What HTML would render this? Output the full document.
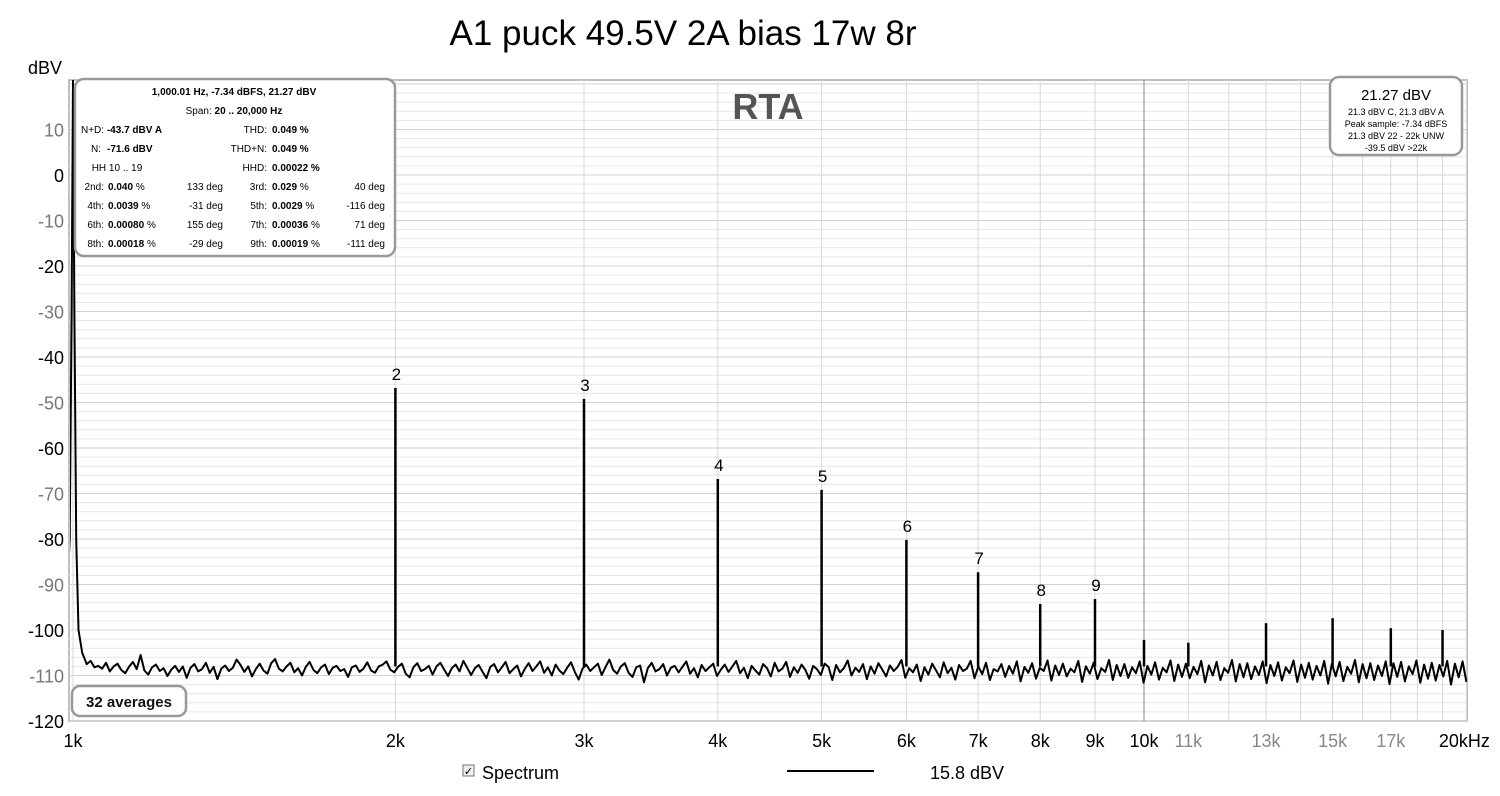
<!DOCTYPE html>
<html><head><meta charset="utf-8">
<style>
body{margin:0;background:#fff;width:1500px;height:791px;overflow:hidden;font-family:"Liberation Sans",sans-serif}
svg text{font-family:"Liberation Sans",sans-serif}
</style></head>
<body>
<svg id="chart" width="1500" height="791" xmlns="http://www.w3.org/2000/svg">
<defs><clipPath id="pc"><rect x="70" y="80" width="1397" height="640"/></clipPath></defs>
<text x="683" y="45" font-size="35" text-anchor="middle" fill="#000">A1 puck 49.5V 2A bias 17w 8r</text>
<text x="45" y="74" font-size="18" text-anchor="middle" fill="#000">dBV</text>
<rect x="69" y="80" width="1398" height="641" fill="#fff" stroke="#aaa" stroke-width="1.5"/>
<g id="grid"></g>
<g id="yt"></g>
<g id="xt"></g>
<g id="series" clip-path="url(#pc)"></g>
<g id="hl"></g>
<text x="768" y="119" font-size="36" font-weight="bold" fill="#555" text-anchor="middle">RTA</text>
<g font-size="10" fill="#000">
<rect x="75" y="79" width="320" height="177" rx="9" fill="#fff" stroke="#999" stroke-width="2.5"/>
<text x="234" y="95" text-anchor="middle" font-weight="bold">1,000.01 Hz, -7.34 dBFS, 21.27 dBV</text>
<text x="234" y="114" text-anchor="middle">Span: <tspan font-weight="bold">20 .. 20,000 Hz</tspan></text>
<text x="81" y="133">N+D: <tspan font-weight="bold">-43.7 dBV A</tspan></text>
<text x="267" y="133" text-anchor="end">THD:</text><text x="272" y="133" font-weight="bold">0.049 %</text>
<text x="101" y="152" text-anchor="end">N:</text><text x="107" y="152" font-weight="bold">-71.6 dBV</text>
<text x="267" y="152" text-anchor="end">THD+N:</text><text x="272" y="152" font-weight="bold">0.049 %</text>
<text x="117" y="171" text-anchor="middle">HH 10 .. 19</text>
<text x="267" y="171" text-anchor="end">HHD:</text><text x="272" y="171" font-weight="bold">0.00022 %</text>
<text x="104" y="190" text-anchor="end">2nd:</text><text x="108" y="190" font-weight="bold">0.040 <tspan font-weight="normal">%</tspan></text>
<text x="223" y="190" text-anchor="end">133 deg</text>
<text x="267" y="190" text-anchor="end">3rd:</text><text x="272" y="190" font-weight="bold">0.029 <tspan font-weight="normal">%</tspan></text>
<text x="385" y="190" text-anchor="end">40 deg</text>
<text x="104" y="209" text-anchor="end">4th:</text><text x="108" y="209" font-weight="bold">0.0039 <tspan font-weight="normal">%</tspan></text>
<text x="223" y="209" text-anchor="end">-31 deg</text>
<text x="267" y="209" text-anchor="end">5th:</text><text x="272" y="209" font-weight="bold">0.0029 <tspan font-weight="normal">%</tspan></text>
<text x="385" y="209" text-anchor="end">-116 deg</text>
<text x="104" y="228" text-anchor="end">6th:</text><text x="108" y="228" font-weight="bold">0.00080 <tspan font-weight="normal">%</tspan></text>
<text x="223" y="228" text-anchor="end">155 deg</text>
<text x="267" y="228" text-anchor="end">7th:</text><text x="272" y="228" font-weight="bold">0.00036 <tspan font-weight="normal">%</tspan></text>
<text x="385" y="228" text-anchor="end">71 deg</text>
<text x="104" y="247" text-anchor="end">8th:</text><text x="108" y="247" font-weight="bold">0.00018 <tspan font-weight="normal">%</tspan></text>
<text x="223" y="247" text-anchor="end">-29 deg</text>
<text x="267" y="247" text-anchor="end">9th:</text><text x="272" y="247" font-weight="bold">0.00019 <tspan font-weight="normal">%</tspan></text>
<text x="385" y="247" text-anchor="end">-111 deg</text>
</g>
<g fill="#000" text-anchor="middle">
<rect x="1330" y="77" width="132" height="78" rx="9" fill="#fff" stroke="#999" stroke-width="2.5"/>
<text x="1396" y="100" font-size="15">21.27 dBV</text>
<text x="1396" y="115" font-size="9">21.3 dBV C, 21.3 dBV A</text>
<text x="1396" y="127" font-size="9">Peak sample: -7.34 dBFS</text>
<text x="1396" y="139" font-size="9">21.3 dBV 22 - 22k UNW</text>
<text x="1396" y="151" font-size="9">-39.5 dBV &gt;22k</text>
</g>
<g>
<rect x="72" y="686" width="114" height="30" rx="8" fill="#fff" stroke="#999" stroke-width="2.5"/>
<text x="129" y="707" font-size="15" font-weight="bold" text-anchor="middle" fill="#111">32 averages</text>
</g>
<g>
<rect x="463" y="765" width="11" height="11" fill="#eee" stroke="#777"/>
<text x="468.5" y="775" font-size="11" text-anchor="middle">✓</text>
<text x="482" y="779" font-size="18">Spectrum</text>
<line x1="787" y1="771" x2="874" y2="771" stroke="#000" stroke-width="2"/>
<text x="930" y="779" font-size="18">15.8 dBV</text>
</g>
</svg>
<script>
const yTicks=[10,0,-10,-20,-30,-40,-50,-60,-70,-80,-90,-100,-110,-120];
const xTickFreqs=[1000,2000,3000,4000,5000,6000,7000,8000,9000,10000,11000,13000,15000,17000,20000];
const xTickLabels=["1k","2k","3k","4k","5k","6k","7k","8k","9k","10k","11k","13k","15k","17k","20kHz"];
const harmFreqs=[2000,3000,4000,5000,6000,7000,8000,9000,10000,11000,13000,15000,17000,19000];
const harmLevels=[-46.8,-49.2,-66.8,-69.2,-80.2,-87.3,-94.3,-93.2,-102.2,-102.8,-98.5,-97.4,-99.6,-100];
const harmLabels=["2","3","4","5","6","7","8","9"];
const skirtFreqs=[985,993,997,1000,1003,1007,1012,1020,1030];
const skirtLevels=[-98,-80,-30,21,-30,-80,-100,-105,-107.5];
const noise=[-107.5,-106.8,-108.2,-107.9,-108.5,-107.2,-109.1,-108.0,-107.4,-108.8,-109.5,-108.1,-107.0,-108.6,-105.5,-108.9,-109.8,-108.2,-107.6,-109.0,
-108.4,-110.1,-108.7,-107.9,-109.2,-108.0,-110.5,-108.3,-107.5,-109.1,-108.6,-107.2,-109.4,-108.1,-110.8,-108.5,-107.8,-109.0,-108.3,-106.5,
-107.7,-109.2,-108.0,-110.2,-108.6,-107.4,-108.9,-109.6,-107.3,-106.4,-108.5,-109.1,-108.0,-107.2,-109.3,-108.4,-110.0,-108.1,-107.0,-108.8,
-109.5,-108.2,-107.6,-109.7,-108.3,-107.9,-109.0,-108.6,-110.3,-108.2,-107.8,-109.2,-108.5,-107.1,-108.9,-109.4,-108.0,-107.6,-106.9,-108.7,
-109.3,-108.1,-107.4,-109.6,-110.4,-108.2,-107.3,-109.0,-108.6,-107.9,-109.8,-108.0,-107.2,-108.7,-110.1,-108.4,-107.6,-109.1,-106.8,-108.3,
-109.9,-108.4,-107.7,-109.2,-110.6,-108.1,-107.5,-109.3,-108.2,-107.0,-109.5,-108.6,-107.8,-110.2,-108.5,-107.3,-109.0,-108.0,-106.9,-109.4,
-108.2,-110.0,-107.6,-108.9,-109.7,-108.3,-107.1,-109.2,-110.9,-108.5,-107.6,-109.0,-108.2,-107.4,-109.9,-108.1,-106.5,-108.8,-109.6,-108.0,
-107.3,-109.4,-110.3,-108.2,-107.8,-111.5,-108.4,-107.2,-109.1,-108.6,-107.5,-110.0,-108.3,-107.9,-109.3,-108.1,-106.9,-109.6,-108.4,-110.4,
-107.7,-109.0,-108.2,-107.4,-110.1,-108.7,-107.6,-109.2,-108.0,-106.8,-109.5,-108.3,-110.6,-107.9,-108.9,-109.8,-107.5,-108.4,-110.2,-107.2,
-109.1,-108.5,-107.0,-110.3,-108.2,-109.4,-107.6,-108.8,-110.7,-107.9,-108.6,-109.9,-107.4,-108.1,-111.0,-107.7,-109.3,-108.4,-106.7,-110.0,
-108.3,-109.2,-107.5,-110.8,-108.0,-109.6,-107.3,-108.7,-110.2,-107.8,-109.0,-108.1,-106.6,-110.5,-108.4,-109.3,-107.6,-111.2,-108.2,-109.8,
-107.4,-108.9,-110.4,-107.1,-109.5,-108.3,-110.9,-107.7,-109.0,-108.5,-106.8,-110.6,-108.0,-109.7,-107.2,-111.0,-108.6,-109.1,-107.5,-110.3,
-107.9,-109.6,-106.9,-111.3,-108.1,-109.4,-107.3,-110.7,-108.3,-109.0,-106.7,-111.1,-107.8,-109.9,-107.4,-110.2,-108.5,-109.3,-106.8,-111.4,
-108.0,-109.6,-107.2,-110.8,-108.4,-109.2,-106.6,-111.0,-107.7,-110.1,-107.5,-110.5,-108.2,-109.5,-106.9,-111.6,-107.9,-109.8,-107.1,-110.9,
-108.3,-109.3,-106.7,-111.2,-107.6,-110.3,-107.4,-110.6,-108.1,-109.7,-106.8,-111.5,-107.8,-110.0,-107.0,-111.0,-108.4,-109.4,-106.6,-111.3,
-107.5,-110.4,-107.3,-110.8,-108.0,-109.9,-106.9,-111.7,-107.7,-110.1,-107.1,-111.1,-108.2,-109.5,-106.7,-111.4,-107.6,-110.5,-107.2,-110.9,
-107.9,-110.0,-106.8,-111.8,-107.4,-110.2,-107.0,-111.2,-108.1,-109.6,-106.6,-111.5,-107.5,-110.6,-107.3,-111.0,-107.8,-110.1,-106.9,-111.9,
-107.3,-110.3,-107.0,-111.3,-108.0,-109.7,-106.7,-111.6,-107.6,-110.7,-107.2,-111.1,-107.7,-110.2,-106.8,-112.0,-107.4,-110.4,-106.9,-111.4];

const X0=73,DEC=1071,Y0=721,PPD=4.55;
function xs(f){return X0+Math.log10(f/1000)*DEC;}
function ys(v){return Y0-(v+120)*PPD;}
const NS="http://www.w3.org/2000/svg";
function mk(tag,attrs,parent){const e=document.createElementNS(NS,tag);for(const k in attrs)e.setAttribute(k,attrs[k]);parent.appendChild(e);return e;}

const grid=document.getElementById('grid');
for(let v=-120;v<=20;v+=2){
  const l=mk('line',{x1:69,x2:1467,y1:ys(v),y2:ys(v),stroke:v%10===0?'#d0d0d0':'#e6e6e6','stroke-width':1},grid);
  
  
}
const gridFreqs=[];
for(let f=1000;f<=20000;f+=1000)gridFreqs.push(f);
gridFreqs.forEach(f=>{
  const l=mk('line',{x1:xs(f),x2:xs(f),y1:80,y2:721,stroke:f===10000?'#888':'#d8d8d8','stroke-width':1},grid);
  
  
});
const yt=document.getElementById('yt');
yTicks.forEach(v=>{
  const t=mk('text',{x:64,y:ys(v)+7,'font-size':18,'text-anchor':'end',fill:(v%20===0)?'#000':'#777'},yt);
  t.textContent=String(v);
  
  
});
const xt=document.getElementById('xt');
xTickFreqs.forEach((f,i)=>{
  const gray=f>10000&&f<20000;
  const t=mk('text',{x:xs(f)+(f===20000?-2:0),y:747,'font-size':18,'text-anchor':'middle',fill:gray?'#888':'#000'},xt);
  t.textContent=xTickLabels[i];
  
  
});
const ser=document.getElementById('series');
let d='';
skirtFreqs.forEach((f,i)=>{d+=(i?'L':'M')+xs(f).toFixed(1)+','+ys(skirtLevels[i]).toFixed(1);});
const n=noise.length,lo=Math.log10(1030),hi=Math.log10(20000);
noise.forEach((v,i)=>{const f=Math.pow(10,lo+(hi-lo)*i/(n-1));d+='L'+xs(f).toFixed(1)+','+ys(v).toFixed(1);});
const p=mk('path',{d:d,fill:'none',stroke:'#000','stroke-width':2,'stroke-linejoin':'round'},ser);


harmFreqs.forEach((f,i)=>{
  const s=mk('line',{x1:xs(f),x2:xs(f),y1:ys(-108),y2:ys(harmLevels[i]),stroke:'#000','stroke-width':2.5},ser);
  
  
});
const hl=document.getElementById('hl');
harmLabels.forEach((lab,i)=>{
  const t=mk('text',{x:xs(harmFreqs[i])+1,y:ys(harmLevels[i])-8,'font-size':17,'text-anchor':'middle',fill:'#000'},hl);
  t.textContent=lab;
  
  
});
</script>
</body></html>
